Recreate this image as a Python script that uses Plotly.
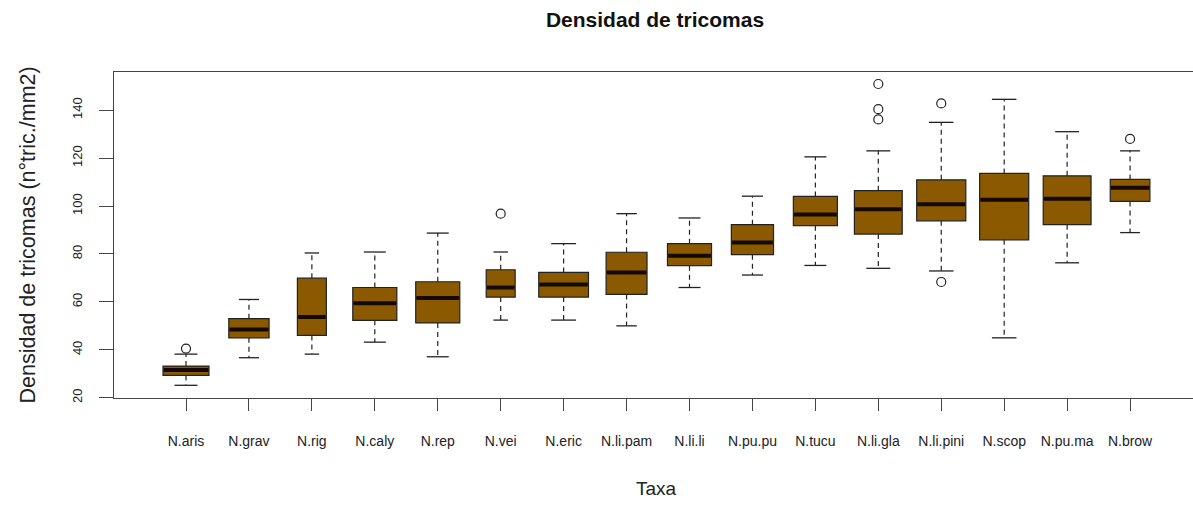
import plotly.graph_objects as go

# Trichome density per taxon
taxa = ["N.aris", "N.grav", "N.rig", "N.caly", "N.rep", "N.vei", "N.eric", "N.li.pam",
        "N.li.li", "N.pu.pu", "N.tucu", "N.li.gla", "N.li.pini", "N.scop", "N.pu.ma", "N.brow"]
lower_whisker = [25.2, 36.7, 38.2, 43.2, 37.1, 52.4, 52.4, 50.0,
                 66.0, 71.2, 75.2, 74.0, 72.9, 45.0, 76.3, 88.9]
q1 = [29.3, 45.0, 46.0, 52.3, 51.2, 62.0, 62.0, 63.1,
      75.1, 79.7, 91.8, 88.3, 93.8, 85.9, 92.2, 101.9]
median = [31.6, 48.5, 53.7, 59.4, 61.6, 66.0, 67.3, 72.3,
          79.2, 84.8, 96.4, 98.6, 100.7, 102.6, 103.0, 107.6]
q3 = [33.2, 53.0, 69.9, 66.0, 68.4, 73.4, 72.3, 80.7,
      84.3, 92.2, 104.0, 106.4, 110.9, 113.6, 112.6, 111.1]
upper_whisker = [38.2, 61.0, 80.4, 80.8, 88.7, 80.8, 84.3, 96.8,
                 95.0, 104.1, 120.5, 123.0, 134.9, 144.5, 131.0, 123.0]
outlier_taxa = ["N.aris", "N.vei", "N.li.gla", "N.li.gla", "N.li.gla",
                "N.li.pini", "N.li.pini", "N.brow"]
outlier_values = [40.5, 96.8, 150.9, 140.4, 136.1, 142.8, 68.3, 128.0]

# box widths differ per taxon (varwidth style)
box_widths = [0.73, 0.64, 0.46, 0.70, 0.70, 0.46, 0.79, 0.65,
              0.70, 0.67, 0.70, 0.76, 0.78, 0.78, 0.76, 0.63]

fill = "#8B5A00"
dark = "#222222"

fig = go.Figure()
pos = list(range(1, len(taxa) + 1))

for i, name in enumerate(taxa):
    fig.add_trace(go.Box(
        x=[pos[i]], q1=[q1[i]], median=[median[i]], q3=[q3[i]],
        lowerfence=[q1[i]], upperfence=[q3[i]],
        width=box_widths[i], fillcolor=fill,
        line=dict(color=dark, width=1.2),
        name=name, showlegend=False, hoverinfo="skip",
    ))

# dashed whiskers
wx, wy = [], []
for i in range(len(taxa)):
    wx += [pos[i], pos[i], None, pos[i], pos[i], None]
    wy += [q3[i], upper_whisker[i], None, q1[i], lower_whisker[i], None]
fig.add_trace(go.Scatter(x=wx, y=wy, mode="lines", showlegend=False, hoverinfo="skip",
                         line=dict(color=dark, width=1.2, dash="5px,4px")))

# staples
sx, sy = [], []
for i in range(len(taxa)):
    h = box_widths[i] / 4
    sx += [pos[i] - h, pos[i] + h, None, pos[i] - h, pos[i] + h, None]
    sy += [upper_whisker[i], upper_whisker[i], None, lower_whisker[i], lower_whisker[i], None]
fig.add_trace(go.Scatter(x=sx, y=sy, mode="lines", showlegend=False, hoverinfo="skip",
                         line=dict(color=dark, width=1.3)))

# thick medians
mx, my = [], []
for i in range(len(taxa)):
    h = box_widths[i] / 2 - 0.012
    mx += [pos[i] - h, pos[i] + h, None]
    my += [median[i], median[i], None]
fig.add_trace(go.Scatter(x=mx, y=my, mode="lines", showlegend=False, hoverinfo="skip",
                         line=dict(color="#140800", width=4)))

# outliers
fig.add_trace(go.Scatter(
    x=[taxa.index(t) + 1 for t in outlier_taxa], y=outlier_values, mode="markers",
    showlegend=False, hoverinfo="skip",
    marker=dict(symbol="circle-open", size=9, color=dark, line=dict(width=1.2)),
))

font = "Liberation Sans, Arial, sans-serif"
fig.update_layout(
    width=1193, height=506,
    margin=dict(l=114, r=0, t=72, b=108),
    plot_bgcolor="white", paper_bgcolor="white",
    font=dict(family=font, color="#1a1a1a"),
    title=dict(text="<b>Densidad de tricomas</b>", x=655 / 1193, xanchor="center",
               y=1 - 20 / 506, yanchor="middle", font=dict(size=21, color="#111111")),
    xaxis=dict(range=[-0.144, 17.0], tickvals=pos, ticktext=taxa,
               showgrid=False, zeroline=False, showline=True, mirror=True,
               linecolor="#444444", linewidth=1.3, ticks="outside", ticklen=12,
               tickcolor="#444444", tickfont=dict(size=14, color="#222222"),
               ticklabelstandoff=18),
    yaxis=dict(range=[19.9, 155.9], tickvals=[20, 40, 60, 80, 100, 120, 140],
               showgrid=False, zeroline=False, showline=True,
               linecolor="#444444", linewidth=1.3, ticks="outside", ticklen=14,
               tickcolor="#444444", tickangle=-90, tickfont=dict(size=13, color="#222222"),
               ticklabelstandoff=12),
    annotations=[
        dict(text="Densidad de tricomas (n°tric./mm2)", xref="paper", yref="paper",
             x=(27 - 114) / 1079, y=(398 - 235.5) / 326, textangle=-90, showarrow=False,
             xanchor="center", yanchor="middle", font=dict(size=21.5, color="#222222")),
        dict(text="Taxa", xref="paper", yref="paper",
             x=(656 - 114) / 1079, y=(398 - 488) / 326, showarrow=False,
             xanchor="center", yanchor="middle", font=dict(size=19, color="#222222")),
    ],
)

# drop the default page margin so the figure fills the window exactly
fig.write_html("out.html", config={"displayModeBar": False},
               post_script="document.body.style.margin='0';"
                           "document.body.style.overflow='hidden';")
